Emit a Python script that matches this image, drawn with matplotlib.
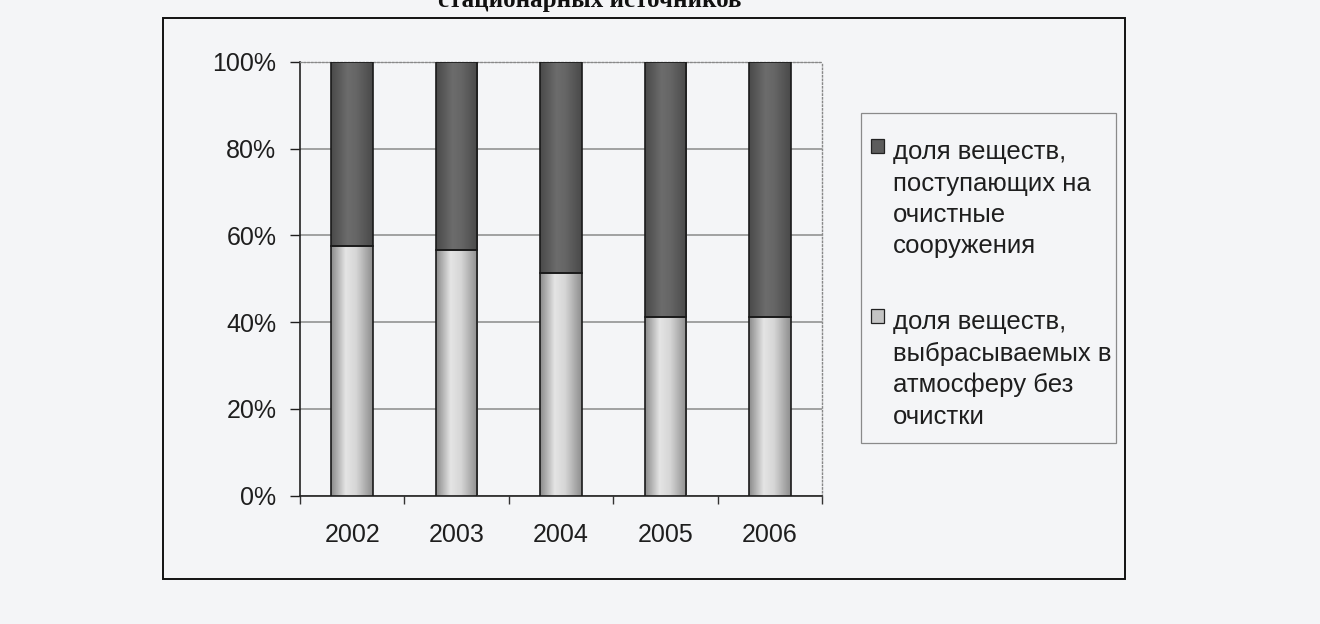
import matplotlib
matplotlib.use("Agg")
import matplotlib.pyplot as plt
from matplotlib.patches import Rectangle
from matplotlib.colors import LinearSegmentedColormap
import numpy as np

years = ["2002", "2003", "2004", "2005", "2006"]
share_no_cleaning = [57.6, 56.6, 51.4, 41.1, 41.1]
share_to_cleaning = [42.4, 43.4, 48.6, 58.9, 58.9]
label_dark = "доля веществ,\nпоступающих на\nочистные\nсооружения"
label_light = "доля веществ,\nвыбрасываемых в\nатмосферу без\nочистки"
yticks = [0, 20, 40, 60, 80, 100]
title_text = "стационарных источников"

plt.rcParams['font.family'] = ['Liberation Sans', 'DejaVu Sans']

W, H = 1320, 624
def fx(px): return px / W
def fy(py): return 1 - py / H

bg = '#f4f5f7'
txt = '#1e1e1e'
fig = plt.figure(figsize=(13.2, 6.24), dpi=100, facecolor=bg)

# outer chart frame
fig.patches.append(Rectangle((fx(163), fy(579)), fx(1125) - fx(163), fy(18) - fy(579),
                             transform=fig.transFigure, fill=False,
                             edgecolor='#111111', linewidth=1.4))

# title (cut at the top of the scan)
fig.text(fx(590), fy(7), title_text, ha='center', va='baseline',
         fontsize=18, fontweight='bold', family=['Liberation Serif', 'DejaVu Serif'],
         color='#111111')

ax = fig.add_axes([fx(300), fy(495.7), fx(822) - fx(300), fy(61.7) - fy(495.7)])
ax.set_facecolor(bg)
x = np.arange(len(years))
w = 0.40
b1 = ax.bar(x, share_no_cleaning, width=w, facecolor='none', edgecolor='#1a1a1a',
            linewidth=1.2, zorder=4)
b2 = ax.bar(x, share_to_cleaning, width=w, bottom=share_no_cleaning, facecolor='none',
            edgecolor='#1a1a1a', linewidth=1.2, zorder=4)

light_cmap = LinearSegmentedColormap.from_list(
    'light', [(0, '#8c8c8c'), (0.35, '#e4e4e4'), (0.6, '#d6d6d6'), (1, '#8e8e8e')])
dark_cmap = LinearSegmentedColormap.from_list(
    'dark', [(0, '#4a4a4a'), (0.4, '#6c6c6c'), (0.6, '#666666'), (1, '#4a4a4a')])
grad = np.linspace(0, 1, 64)[np.newaxis, :]
for bars, cm in ((b1, light_cmap), (b2, dark_cmap)):
    for p in bars:
        x0, y0 = p.get_xy()
        im = ax.imshow(grad, extent=[x0, x0 + p.get_width(), y0, y0 + p.get_height()],
                       aspect='auto', cmap=cm, zorder=3, interpolation='bilinear')
        im.set_clip_path(p)

ax.set_xlim(-0.5, len(years) - 0.5)
ax.set_ylim(0, 100)
ax.set_yticks(yticks)
ax.set_yticklabels([f"{v}%" for v in yticks])
ax.set_xticks(x)
ax.set_xticklabels(years)
ax.set_xticks(np.arange(len(years) + 1) - 0.5, minor=True)
ax.tick_params(axis='both', labelsize=18, colors=txt)
ax.tick_params(axis='y', length=7, width=1, direction='out', pad=10)
ax.tick_params(axis='x', which='major', length=0, pad=20)
ax.tick_params(axis='x', which='minor', length=6, width=1, direction='out', color='#333333')
ax.yaxis.grid(True, color='#8a8a8a', linewidth=1.1, zorder=0)
ax.set_axisbelow(True)
for s in ['top', 'right']:
    ax.spines[s].set_linestyle(':')
    ax.spines[s].set_color('#888888')
    ax.spines[s].set_linewidth(1.0)
for s in ['left', 'bottom']:
    ax.spines[s].set_color('#222222')
    ax.spines[s].set_linewidth(1.2)

# legend drawn as a box with markers and text lines
fig.patches.append(Rectangle((fx(861), fy(443)), fx(1116) - fx(861), fy(112.7) - fy(443),
                             transform=fig.transFigure, facecolor=bg,
                             edgecolor='#8a8a8a', linewidth=0.9))
entries = [(label_dark, '#5c5c5c', 152), (label_light, '#c4c4c4', 322)]
line_step = 31.5
for label, col, ytop in entries:
    fig.patches.append(Rectangle((fx(871), fy(ytop + 1)), fx(884) - fx(871), fy(ytop - 13) - fy(ytop + 1),
                                 transform=fig.transFigure, facecolor=col,
                                 edgecolor='#222222', linewidth=0.9))
    for i, line in enumerate(label.split('\n')):
        fig.text(fx(893), fy(ytop + i * line_step), line, ha='left', va='center',
                 fontsize=18.5, color=txt)

fig.savefig("out.png", dpi=100, facecolor=bg)
